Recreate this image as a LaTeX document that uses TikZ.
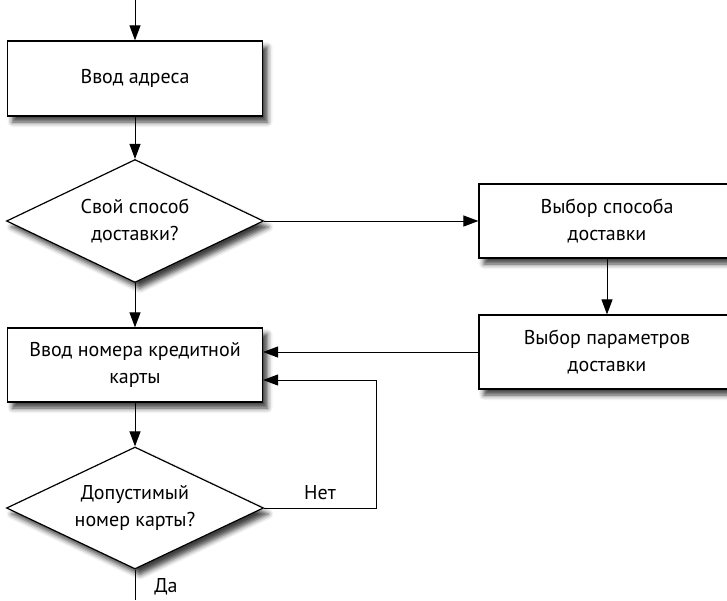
\documentclass[tikz,border=0pt]{standalone}
\usepackage{fontspec}
\setmainfont{PT Sans}
\usetikzlibrary{arrows.meta, shapes.geometric, shadows.blur, calc}

\tikzset{
    flowBox/.style={draw, line width=1.2pt, fill=white, rectangle,
        minimum width=255pt, minimum height=75pt, align=center,
        blur shadow={shadow xshift=5pt, shadow yshift=-6pt, shadow blur radius=5pt, shadow opacity=75}},
    flowDiam/.style={draw, line width=1.2pt, fill=white, diamond, aspect=2.08, inner sep=0pt,
        minimum width=257pt, minimum height=123pt, align=center,
        blur shadow={shadow xshift=5pt, shadow yshift=-6pt, shadow blur radius=5pt, shadow opacity=75}},
    flowArr/.style={-{Triangle[length=15pt, width=11pt]}, line width=1pt},
    flowText/.style={font=\fontsize{20}{27}\selectfont}
}

\begin{document}
\begin{tikzpicture}[x=1pt, y=-1pt, every node/.style={flowText}]
\useasboundingbox (0,0) rectangle (727,600);

% левая колонка
\coordinate (cStart) at (135,0);
\node[flowBox] (nAddr) at (135,78.5) {Ввод адреса};
\node[flowDiam] (nOwnDel) at (135,221) {Свой способ\\доставки?};
\node[flowBox, minimum height=74pt] (nCard) at (135,365) {Ввод номера кредитной\\карты};
\node[flowDiam, minimum height=122pt] (nValid) at (135,508) {Допустимый\\номер карты?};
\coordinate (cEnd) at (135,600);

% правая колонка
\node[flowBox, minimum width=256pt, minimum height=74pt] (nDelWay) at (607,221) {Выбор способа\\доставки};
\node[flowBox, minimum width=256pt, minimum height=74pt] (nDelPar) at (607,352) {Выбор параметров\\доставки};

% связи
\draw[flowArr] (cStart) -- (nAddr);
\draw[flowArr] (nAddr) -- (nOwnDel);
\draw[flowArr] (nOwnDel) -- (nCard);
\draw[flowArr] (nOwnDel.east) -- (nDelWay.west);
\draw[flowArr] (nDelWay) -- (nDelPar);
\draw[flowArr] (nDelPar.west) -- (nDelPar.west -| nCard.east);
\draw[flowArr] (nCard) -- (nValid);
\coordinate (cLoop) at ($(nCard.east)+(0,15)$);
\draw[flowArr] (nValid.east) -- (376,508) |- (cLoop);
\draw[line width=1pt] (nValid.south) -- (cEnd);

% подписи
\node (lNo) at (320,493) {Нет};
\node (lYes) at (166,587) {Да};
\end{tikzpicture}
\end{document}
